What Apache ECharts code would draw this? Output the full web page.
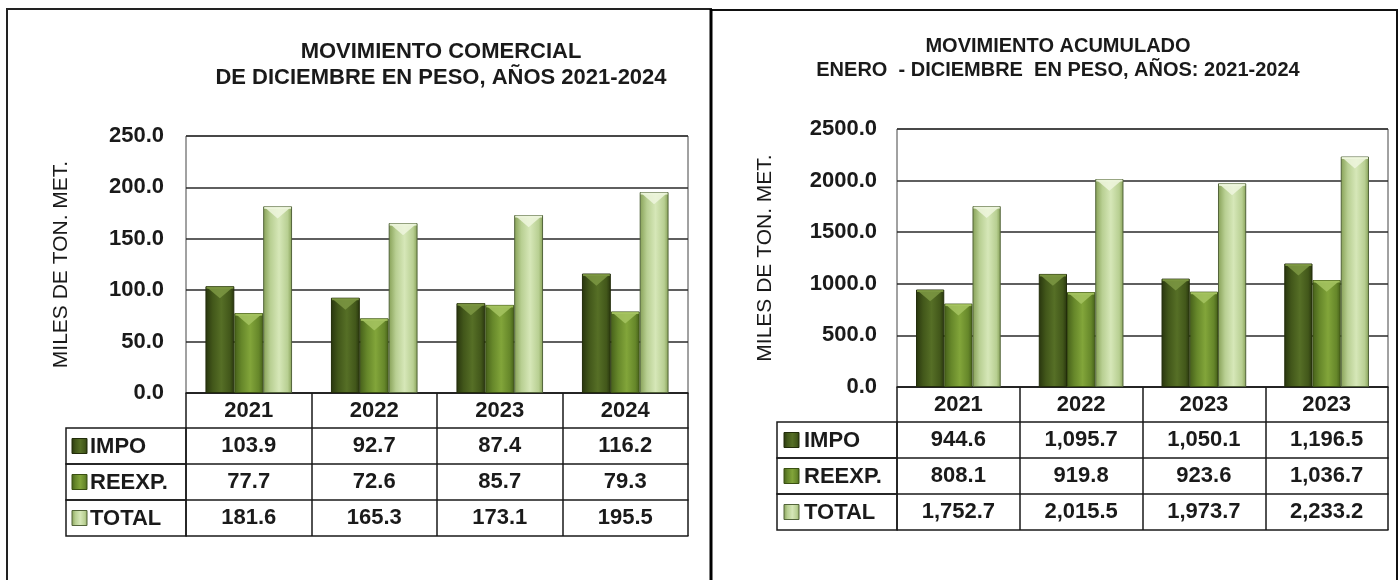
<!DOCTYPE html>
<html><head><meta charset="utf-8">
<script src="https://cdn.jsdelivr.net/npm/echarts@6/dist/echarts.min.js"></script>
<style>html,body{margin:0;padding:0;background:#fff}#c{width:1400px;height:580px}</style>
</head><body><div id="c"></div>
<script>
// ---------- DATA ----------
const years1 = ['2021', '2022', '2023', '2024'];
const impo1 = [103.9, 92.7, 87.4, 116.2];
const reexp1 = [77.7, 72.6, 85.7, 79.3];
const total1 = [181.6, 165.3, 173.1, 195.5];

const years2 = ['2021', '2022', '2023', '2023'];
const impo2 = [944.6, 1095.7, 1050.1, 1196.5];
const reexp2 = [808.1, 919.8, 923.6, 1036.7];
const total2 = [1752.7, 2015.5, 1973.7, 2233.2];

const rowNames = ['IMPO', 'REEXP.', 'TOTAL'];
const title1 = 'MOVIMIENTO COMERCIAL\nDE DICIEMBRE EN PESO, AÑOS 2021-2024';
const title2 = 'MOVIMIENTO ACUMULADO\nENERO  - DICIEMBRE  EN PESO, AÑOS: 2021-2024';
const yName = 'MILES DE TON. MET.';
const yMax1 = 250, yStep1 = 50;
const yMax2 = 2500, yStep2 = 500;

// ---------- STYLE ----------
const FF = '"Liberation Sans", Arial, sans-serif';
const INK = '#1a1a1a';
const pal = [
  {edge: '#28350e', mid: '#42571a', hi: '#566f26', bevel: '#7d9843', border: '#222c0a'},
  {edge: '#46601a', mid: '#66872a', hi: '#82a53a', bevel: '#a6c462', border: '#3a5012'},
  {edge: '#86a056', mid: '#b8cf92', hi: '#d6e7b8', bevel: '#eef6de', border: '#52643a'}
];
function grad(p) {
  return new echarts.graphic.LinearGradient(0, 0, 1, 0, [
    {offset: 0, color: p.edge}, {offset: 0.25, color: p.mid},
    {offset: 0.55, color: p.hi}, {offset: 0.85, color: p.mid}, {offset: 1, color: p.edge}
  ]);
}
const fmt = v => v.toLocaleString('en-US', {minimumFractionDigits: 1, maximumFractionDigits: 1});

const HEAD_H = 35, ROW_H = 36;
const GAP = 0.31;

function tableAxes(gi, cats, rows) {
  const line = {show: true, lineStyle: {color: INK, width: 1.5}};
  const lab = {interval: 0, margin: 7, fontSize: 22, fontWeight: 'bold', color: INK, fontFamily: FF};
  const axes = [{
    gridIndex: gi, type: 'category', data: cats, position: 'bottom', offset: 0,
    axisLine: line, axisTick: {show: true, interval: 0, length: HEAD_H, lineStyle: {color: INK, width: 1.5}},
    axisLabel: Object.assign({}, lab, {formatter: (v, i) => cats[i]}), splitLine: {show: false}
  }];
  rows.forEach((r, k) => {
    axes.push({
      gridIndex: gi, type: 'category', data: r.map(fmt), position: 'bottom', offset: HEAD_H + ROW_H * k,
      axisLine: line, axisTick: {show: true, interval: 0, length: ROW_H, lineStyle: {color: INK, width: 1.5}},
      axisLabel: lab, splitLine: {show: false}
    });
  });
  axes.push({
    gridIndex: gi, type: 'category', data: cats, position: 'bottom', offset: HEAD_H + ROW_H * 3,
    axisLine: line, axisTick: {show: false}, axisLabel: {show: false}, splitLine: {show: false}
  });
  return axes;
}

function yAxis(gi, max, step, margin, gap) {
  return {
    gridIndex: gi, type: 'value', min: 0, max: max, interval: step,
    axisLine: {show: false}, axisTick: {show: false},
    axisLabel: {formatter: v => v.toFixed(1), fontSize: 22, fontWeight: 'bold', color: INK, margin: margin, fontFamily: FF},
    splitLine: {show: true, lineStyle: {color: '#2a2a2a', width: 1.5}},
    name: yName, nameLocation: 'middle', nameGap: gap, nameRotate: 90,
    nameTextStyle: {fontSize: 21, color: INK, fontFamily: FF}
  };
}

function barSeries(name, data, xi, yi, k) {
  return {
    name: name, type: 'bar', data: data, xAxisIndex: xi, yAxisIndex: yi,
    barGap: '0%', barCategoryGap: (GAP * 100) + '%',
    itemStyle: {color: grad(pal[k]), borderColor: pal[k].border, borderWidth: 1},
    emphasis: {disabled: true}
  };
}
function bevelSeries(data, xi, yi, k) {
  return {
    type: 'custom', xAxisIndex: xi, yAxisIndex: yi, silent: true, z: 3,
    data: data.map((v, i) => [i, v]),
    encode: {x: 0, y: 1},
    renderItem: function (params, api) {
      const i = api.value(0), v = api.value(1);
      const top = api.coord([i, v]);
      const band = api.size([1, 0])[0];
      const w = band * (1 - GAP) / 3;
      const x0 = top[0] - 1.5 * w + k * w;
      const dh = Math.min(w * 0.42, 14);
      return {
        type: 'group', children: [
          {type: 'polygon', shape: {points: [[x0 + 2, top[1] + 1.5], [x0 + w - 2, top[1] + 1.5], [x0 + w / 2, top[1] + dh]]},
            style: {fill: pal[k].bevel, opacity: 0.85}},
          {type: 'rect', shape: {x: x0 + 1, y: top[1] + 0.5, width: w - 2, height: 2},
            style: {fill: pal[k].bevel, opacity: 0.9}}
        ]
      };
    }
  };
}

// row label cells (legend squares + names)
function labelCells(x0, x1, yTop, sqX, txtX) {
  const els = [];
  rowNames.forEach((n, k) => {
    const y = yTop + ROW_H * k;
    els.push({type: 'rect', shape: {x: x0, y: y, width: x1 - x0, height: ROW_H},
      style: {fill: null, stroke: INK, lineWidth: 1.5}, z: 10});
    els.push({type: 'rect', shape: {x: sqX, y: y + ROW_H / 2 - 7.5, width: 15, height: 15},
      style: {fill: grad(pal[k]), stroke: pal[k].border, lineWidth: 1}, z: 10});
    els.push({type: 'text', x: txtX, y: y + ROW_H / 2 + 1,
      style: {text: n, font: 'bold 22px ' + FF, fill: INK, textVerticalAlign: 'middle', textAlign: 'left'}, z: 10});
  });
  return els;
}

const chart = echarts.init(document.getElementById('c'));
const G1 = {left: 186, top: 136, width: 502, height: 257};
const G2 = {left: 897, top: 129, width: 491, height: 258};

const option = {
  animation: false,
  backgroundColor: '#fff',
  title: [
    {text: title1, left: 436, top: 34, textAlign: 'center',
      textStyle: {fontSize: 22, fontWeight: 'bold', color: INK, lineHeight: 26, fontFamily: FF}},
    {text: title2, left: 1053, top: 29, textAlign: 'center',
      textStyle: {fontSize: 20, fontWeight: 'bold', color: INK, lineHeight: 24, fontFamily: FF}}
  ],
  grid: [
    Object.assign({show: true, borderColor: '#444', borderWidth: 1, backgroundColor: 'transparent'}, G1),
    Object.assign({show: true, borderColor: '#444', borderWidth: 1, backgroundColor: 'transparent'}, G2)
  ],
  xAxis: tableAxes(0, years1, [impo1, reexp1, total1]).concat(tableAxes(1, years2, [impo2, reexp2, total2])),
  yAxis: [yAxis(0, yMax1, yStep1, 22, 114), yAxis(1, yMax2, yStep2, 20, 121)],
  series: [
    barSeries('IMPO', impo1, 0, 0, 0), barSeries('REEXP.', reexp1, 0, 0, 1), barSeries('TOTAL', total1, 0, 0, 2),
    barSeries('IMPO', impo2, 5, 1, 0), barSeries('REEXP.', reexp2, 5, 1, 1), barSeries('TOTAL', total2, 5, 1, 2),
    bevelSeries(impo1, 0, 0, 0), bevelSeries(reexp1, 0, 0, 1), bevelSeries(total1, 0, 0, 2),
    bevelSeries(impo2, 5, 1, 0), bevelSeries(reexp2, 5, 1, 1), bevelSeries(total2, 5, 1, 2)
  ],
  graphic: [
    {type: 'rect', shape: {x: 7, y: 9, width: 704, height: 600}, style: {fill: null, stroke: '#222', lineWidth: 2}, z: 0},
    {type: 'rect', shape: {x: 711, y: 10, width: 686, height: 600}, style: {fill: null, stroke: '#111', lineWidth: 2}, z: 0},
    {type: 'line', shape: {x1: 711, y1: 9, x2: 711, y2: 580}, style: {stroke: '#000', lineWidth: 3}, z: 0}
  ].concat(labelCells(66, 186, 393 + HEAD_H, 72, 90)).concat(labelCells(777, 897, 387 + HEAD_H, 784, 804))
};
chart.setOption(option);
</script>
</body></html>
